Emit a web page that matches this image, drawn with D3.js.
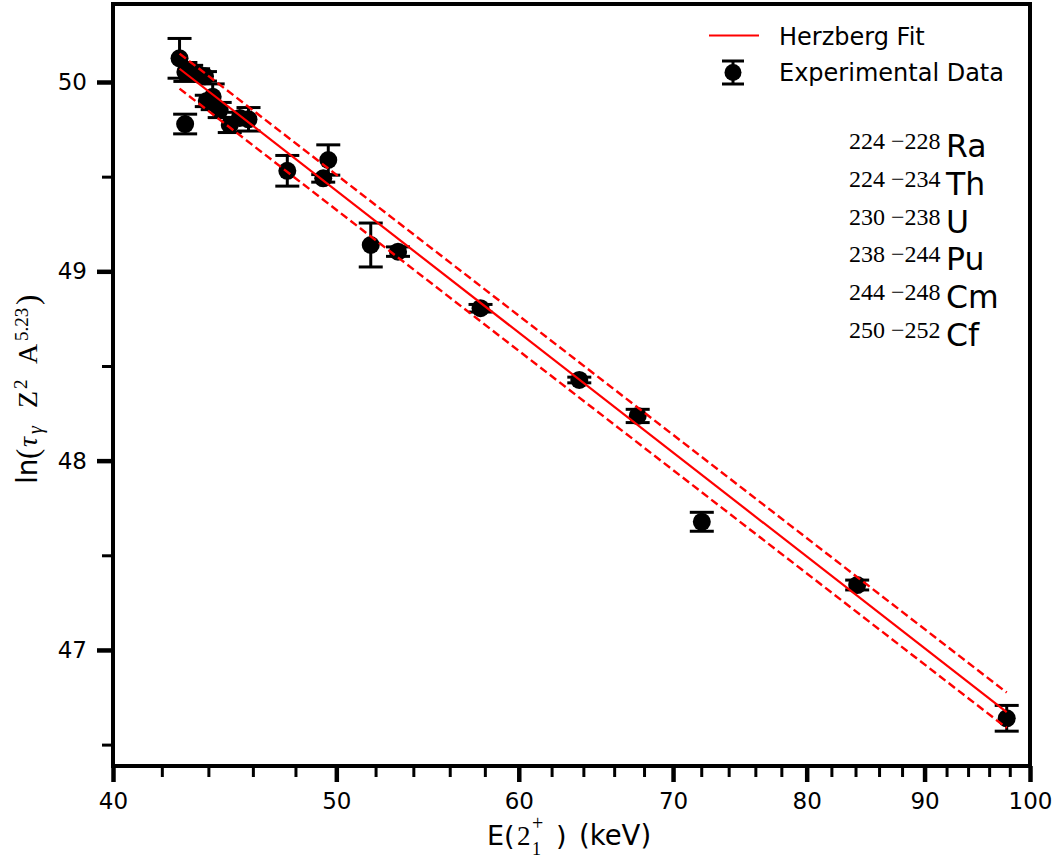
<!DOCTYPE html>
<html>
<head>
<meta charset="utf-8">
<script src="https://cdn.jsdelivr.net/npm/d3@7"></script>
<style>
  body { margin: 0; background: #fff; }
  svg { display: block; }
  text { font-family: "DejaVu Sans", sans-serif; fill: #000; }
  .math { font-family: "Liberation Serif", "DejaVu Serif", serif; }
</style>
</head>
<body>
<svg id="chart" width="1052" height="861"></svg>
<script>
// Transition energies E(2+1) in keV
const energy = [42.75, 42.99, 43.00, 43.25, 43.55, 43.85, 43.93, 44.19, 44.50, 44.95, 45.40, 45.80,
                47.61, 49.35, 49.60, 51.75, 53.18, 57.75, 63.74, 67.57, 72.04, 84.14, 97.70];
// ln(tau_gamma Z^2 A^5.23)
const lnValue = [50.125, 49.778, 50.053, 50.048, 50.040, 50.030, 49.900, 49.922, 49.852, 49.773, 49.810, 49.803,
                 49.531, 49.491, 49.588, 49.139, 49.104, 48.805, 48.426, 48.236, 47.677, 47.343, 46.639];
const lnError = [0.105, 0.052, 0.050, 0.040, 0.030, 0.025, 0.030, 0.068, 0.040, 0.040, 0.030, 0.062,
                 0.081, 0.020, 0.080, 0.116, 0.025, 0.020, 0.015, 0.035, 0.050, 0.026, 0.068];

// Herzberg fit and its bounds, evaluated at the ends of the energy range
const fitEnergy = [42.75, 97.70];
const fitCentral = [50.070, 46.672];
const fitUpper = [50.150, 46.775];
const fitLower = [49.965, 46.588];

const xMajorTicks = [40, 50, 60, 70, 80, 90, 100];
const xMinorTicks = [42, 44, 46, 48, 52, 54, 56, 58, 62, 64, 66, 68, 72, 74, 76, 78, 82, 84, 86, 88, 92, 94, 96, 98];
const yMajorTicks = [47, 48, 49, 50];
const yMinorTicks = [46.5, 47.5, 48.5, 49.5];

const isotopeRanges = ["224 \u2212228", "224 \u2212234", "230 \u2212238", "238 \u2212244", "244 \u2212248", "250 \u2212252"];
const isotopeElements = ["Ra", "Th", "U", "Pu", "Cm", "Cf"];

const svg = d3.select("#chart");
const plot = { left: 113, right: 1030, top: 4, bottom: 766 };

const x = d3.scaleLog().domain([40, 100]).range([plot.left, plot.right]);
const y = d3.scaleLinear().domain([46.387, 50.412]).range([plot.bottom, plot.top]);

// ---- axes ----
function styleAxis(g, width, fontSize) {
  g.select(".domain").remove();
  g.selectAll(".tick line").attr("stroke", "#000").attr("stroke-width", width);
  g.selectAll(".tick text").attr("font-size", fontSize).attr("font-family", "DejaVu Sans").attr("fill", "#000");
}

svg.append("g")
  .attr("transform", `translate(0,${plot.bottom})`)
  .call(d3.axisBottom(x).tickValues(xMinorTicks).tickSize(11).tickFormat(""))
  .call(g => styleAxis(g, 3, 0));

svg.append("g")
  .attr("transform", `translate(0,${plot.bottom})`)
  .call(d3.axisBottom(x).tickValues(xMajorTicks).tickSize(16).tickPadding(11).tickFormat(d3.format("d")))
  .call(g => styleAxis(g, 4.5, 23));

svg.append("g")
  .attr("transform", `translate(${plot.left},0)`)
  .call(d3.axisLeft(y).tickValues(yMinorTicks).tickSize(11).tickFormat(""))
  .call(g => styleAxis(g, 3, 0));

svg.append("g")
  .attr("transform", `translate(${plot.left},0)`)
  .call(d3.axisLeft(y).tickValues(yMajorTicks).tickSize(16).tickPadding(10).tickFormat(d3.format("d")))
  .call(g => styleAxis(g, 4.5, 23));

// ---- error bars and points ----
const points = energy.map((e, i) => ({ e, v: lnValue[i], err: lnError[i] }));
const capHalf = 12;
const pg = svg.append("g");
const pt = pg.selectAll("g.pt").data(points).join("g").attr("class", "pt");
pt.append("line")
  .attr("x1", d => x(d.e)).attr("x2", d => x(d.e))
  .attr("y1", d => y(d.v - d.err)).attr("y2", d => y(d.v + d.err))
  .attr("stroke", "#000").attr("stroke-width", 3);
pt.append("line")
  .attr("x1", d => x(d.e) - capHalf).attr("x2", d => x(d.e) + capHalf)
  .attr("y1", d => y(d.v + d.err)).attr("y2", d => y(d.v + d.err))
  .attr("stroke", "#000").attr("stroke-width", 3);
pt.append("line")
  .attr("x1", d => x(d.e) - capHalf).attr("x2", d => x(d.e) + capHalf)
  .attr("y1", d => y(d.v - d.err)).attr("y2", d => y(d.v - d.err))
  .attr("stroke", "#000").attr("stroke-width", 3);
pt.append("circle")
  .attr("cx", d => x(d.e)).attr("cy", d => y(d.v)).attr("r", 9)
  .attr("fill", "#000");

// ---- fit lines ----
const line = d3.line().x(d => x(d[0])).y(d => y(d[1]));
const zip = vals => fitEnergy.map((e, i) => [e, vals[i]]);
svg.append("path").attr("d", line(zip(fitCentral)))
  .attr("fill", "none").attr("stroke", "#ff0000").attr("stroke-width", 2.2);
[fitUpper, fitLower].forEach(b => {
  svg.append("path").attr("d", line(zip(b)))
    .attr("fill", "none").attr("stroke", "#ff0000").attr("stroke-width", 2.4)
    .attr("stroke-dasharray", "8,4");
});

// ---- frame ----
svg.append("rect")
  .attr("x", plot.left).attr("y", plot.top)
  .attr("width", plot.right - plot.left).attr("height", plot.bottom - plot.top)
  .attr("fill", "none").attr("stroke", "#000").attr("stroke-width", 4);

// ---- legend ----
const lg = svg.append("g");
lg.append("line").attr("x1", 709).attr("x2", 759).attr("y1", 35.5).attr("y2", 35.5)
  .attr("stroke", "#ff0000").attr("stroke-width", 2.2);
lg.append("text").attr("x", 779).attr("y", 44.5).attr("font-size", 24).text("Herzberg Fit");
const lx = 733, ly = 72.5, lh = 11.5;
lg.append("line").attr("x1", lx).attr("x2", lx).attr("y1", ly - lh).attr("y2", ly + lh)
  .attr("stroke", "#000").attr("stroke-width", 3);
[ly - lh, ly + lh].forEach(cy => lg.append("line")
  .attr("x1", lx - 11).attr("x2", lx + 11).attr("y1", cy).attr("y2", cy)
  .attr("stroke", "#000").attr("stroke-width", 3));
lg.append("circle").attr("cx", lx).attr("cy", ly).attr("r", 8.5).attr("fill", "#000");
lg.append("text").attr("x", 779).attr("y", 80.5).attr("font-size", 24).text("Experimental Data");

// ---- isotope list ----
const iso = svg.append("g");
isotopeElements.forEach((el, i) => {
  const base = 157 + 37.8 * i;
  iso.append("text").attr("class", "math").attr("x", 849).attr("y", base - 8)
    .attr("font-size", 24).text(isotopeRanges[i]);
  iso.append("text").attr("x", 946).attr("y", base).attr("font-size", 31.5).text(el);
});

// ---- x axis title ----
const xt = svg.append("g");
xt.append("text").attr("x", 487).attr("y", 845).attr("font-size", 27).text("E(");
xt.append("text").attr("class", "math").attr("x", 517).attr("y", 845).attr("font-size", 27).text("2");
xt.append("text").attr("class", "math").attr("x", 532).attr("y", 855).attr("font-size", 18).text("1");
xt.append("text").attr("class", "math").attr("x", 532).attr("y", 830).attr("font-size", 20).text("+");
xt.append("text").attr("x", 556).attr("y", 845).attr("font-size", 27).text(")");
xt.append("text").attr("x", 579).attr("y", 845).attr("font-size", 27.5).text("(keV)");

// ---- y axis title (rotated) ----
const yt = svg.append("g").attr("transform", "translate(37,0) rotate(-90)");
const yParts = [
  { t: "ln", at: 484, cls: null, size: 28, shift: 0 },
  { t: "(", at: 459, cls: "math", size: 31, shift: 1 },
  { t: "\u03c4", at: 447, cls: "math", size: 28, shift: 0, italic: true },
  { t: "\u03b3", at: 434, cls: "math", size: 20, shift: 5, italic: true },
  { t: "Z", at: 408, cls: "math", size: 28, shift: 0 },
  { t: "2", at: 389, cls: "math", size: 19, shift: -10 },
  { t: "A", at: 364, cls: "math", size: 28, shift: 0 },
  { t: "5.23", at: 341, cls: "math", size: 19, shift: -9 },
  { t: ")", at: 305, cls: "math", size: 31, shift: 1 }
];
yParts.forEach(p => {
  const t = yt.append("text").attr("x", -p.at).attr("y", p.shift).attr("font-size", p.size).text(p.t);
  if (p.cls) t.attr("class", p.cls);
  if (p.italic) t.attr("font-style", "italic");
});
</script>
</body>
</html>
